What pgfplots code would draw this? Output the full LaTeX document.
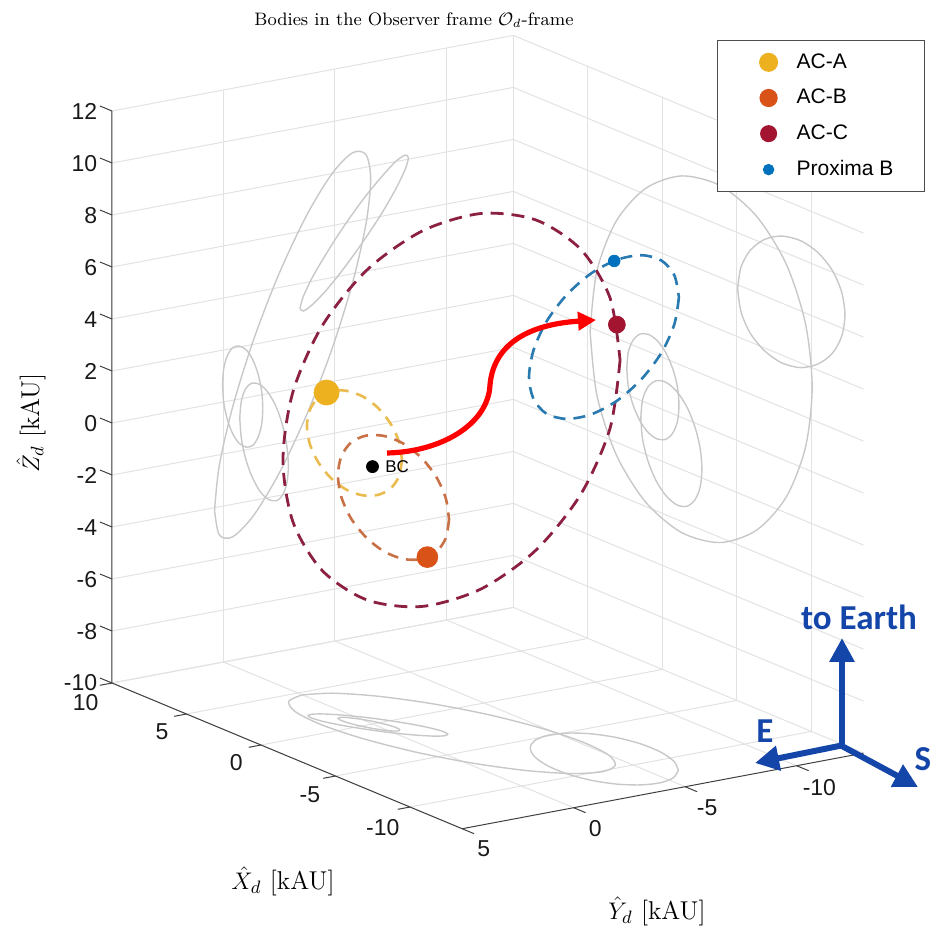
\documentclass[border=0pt]{standalone}
\usepackage{fontspec}
\usepackage{pgfplots}
\pgfplotsset{compat=1.18}
\usetikzlibrary{arrows.meta}
\newfontfamily\helv{Liberation Sans}
\newfontfamily\calib{Carlito}
\definecolor{acA}{RGB}{237,177,32}
\definecolor{acB}{RGB}{217,83,25}
\definecolor{acC}{RGB}{162,20,47}
\definecolor{prox}{RGB}{0,114,189}
\definecolor{acAd}{RGB}{234,188,80}
\definecolor{acBd}{RGB}{200,112,70}
\definecolor{acCd}{RGB}{140,32,64}
\definecolor{proxd}{RGB}{40,122,176}
\definecolor{proj}{RGB}{200,200,200}
\definecolor{gridc}{RGB}{226,226,226}
\definecolor{compass}{RGB}{20,70,170}
\begin{document}
\begin{tikzpicture}
\begin{axis}[
  disabledatascaling,
  x={(-7.45pt,3.1pt)}, y={(-11.15pt,-2.1pt)}, z={(0pt,13pt)},
  xmin=-13.5, xmax=10, ymin=-13, ymax=5, zmin=-10, zmax=12,
  xtick={-10,-5,0,5,10}, ytick={-10,-5,0,5}, ztick={-10,-8,...,12},
  grid=major,
  major grid style={gridc, line width=0.5pt},
  axis line style={draw=none},
  tick style={draw=none},
  major tick length=6pt,
  tick align=outside,
  /pgf/number format/assume math mode=true,
  tick label style={font=\helv\fontsize{11.5}{13}\selectfont, text=black!90},
  zticklabel style={xshift=2pt},
  clip=false,
  legend style={at={(axis description cs:1.0817,0.9942)}, anchor=north east,
    draw=black!70, line width=0.5pt, fill=white,
    font=\helv\fontsize{10.5}{12}\selectfont, text=black,
    inner xsep=13.5pt, inner ysep=4.5pt, row sep=5pt, column sep=4pt},
  legend cell align=left,
  legend image code/.code={\path[draw=none,fill=none] (0pt,-4pt) rectangle (20pt,4pt); \draw[#1] plot coordinates {(12pt,0pt)};},
]
% ---- grey projections: right wall (Y = -13)
\addplot3[proj, line width=0.7pt, smooth, forget plot] coordinates {(4.85,-13,1.85) (4.40,-13,4.27) (3.11,-13,6.49) (1.13,-13,8.23) (-1.30,-13,9.29) (-3.90,-13,9.53) (-6.33,-13,8.93) (-8.31,-13,7.57) (-9.60,-13,5.59) (-10.05,-13,3.25) (-9.60,-13,0.83) (-8.31,-13,-1.39) (-6.33,-13,-3.13) (-3.90,-13,-4.19) (-1.30,-13,-4.43) (1.13,-13,-3.83) (3.11,-13,-2.47) (4.40,-13,-0.49) (4.85,-13,1.85)};
\addplot3[proj, line width=0.7pt, smooth, forget plot] coordinates {(2.39,-13,1.02) (2.29,-13,1.66) (1.98,-13,2.18) (1.52,-13,2.53) (0.94,-13,2.66) (0.34,-13,2.56) (-0.24,-13,2.23) (-0.70,-13,1.72) (-1.01,-13,1.10) (-1.11,-13,0.42) (-1.01,-13,-0.22) (-0.70,-13,-0.74) (-0.24,-13,-1.09) (0.34,-13,-1.22) (0.94,-13,-1.12) (1.52,-13,-0.79) (1.98,-13,-0.28) (2.29,-13,0.34) (2.39,-13,1.02)};
\addplot3[proj, line width=0.7pt, smooth, forget plot] coordinates {(1.45,-13,-0.67) (1.33,-13,0.06) (0.97,-13,0.63) (0.43,-13,1.00) (-0.24,-13,1.10) (-0.96,-13,0.92) (-1.63,-13,0.50) (-2.17,-13,-0.13) (-2.53,-13,-0.88) (-2.65,-13,-1.67) (-2.53,-13,-2.40) (-2.17,-13,-2.97) (-1.63,-13,-3.34) (-0.96,-13,-3.44) (-0.24,-13,-3.26) (0.43,-13,-2.84) (0.97,-13,-2.21) (1.33,-13,-1.46) (1.45,-13,-0.67)};
\addplot3[proj, line width=0.7pt, smooth, forget plot] coordinates {(-5.05,-13,5.85) (-5.27,-13,6.72) (-5.89,-13,7.52) (-6.85,-13,8.17) (-8.02,-13,8.58) (-9.28,-13,8.70) (-10.45,-13,8.52) (-11.41,-13,8.06) (-12.03,-13,7.38) (-12.25,-13,6.55) (-12.03,-13,5.68) (-11.41,-13,4.88) (-10.45,-13,4.24) (-9.28,-13,3.82) (-8.02,-13,3.70) (-6.85,-13,3.89) (-5.89,-13,4.34) (-5.27,-13,5.02) (-5.05,-13,5.85)};
% ---- grey projections: left wall (X = 10)
\addplot3[proj, line width=0.7pt, smooth, forget plot] coordinates {(10,0.40,-4.10) (10,0.19,-2.42) (10,-0.42,-0.23) (10,-1.35,2.18) (10,-2.49,4.53) (10,-3.71,6.55) (10,-4.85,7.98) (10,-5.78,8.65) (10,-6.39,8.48) (10,-6.60,7.50) (10,-6.39,5.82) (10,-5.78,3.63) (10,-4.85,1.22) (10,-3.71,-1.13) (10,-2.49,-3.15) (10,-1.35,-4.58) (10,-0.42,-5.25) (10,0.19,-5.08) (10,0.40,-4.10)};
\addplot3[proj, line width=0.7pt, smooth, forget plot] coordinates {(10,0.04,0.67) (10,-0.01,1.28) (10,-0.17,1.75) (10,-0.41,2.02) (10,-0.70,2.04) (10,-1.02,1.84) (10,-1.31,1.42) (10,-1.55,0.83) (10,-1.71,0.16) (10,-1.76,-0.53) (10,-1.71,-1.14) (10,-1.55,-1.61) (10,-1.31,-1.88) (10,-1.02,-1.90) (10,-0.70,-1.70) (10,-0.41,-1.28) (10,-0.17,-0.69) (10,-0.01,-0.02) (10,0.04,0.67)};
\addplot3[proj, line width=0.7pt, smooth, forget plot] coordinates {(10,-0.73,-0.73) (10,-0.80,-0.09) (10,-0.99,0.35) (10,-1.28,0.52) (10,-1.63,0.41) (10,-2.01,0.03) (10,-2.37,-0.58) (10,-2.65,-1.33) (10,-2.84,-2.15) (10,-2.91,-2.93) (10,-2.84,-3.57) (10,-2.65,-4.01) (10,-2.37,-4.18) (10,-2.01,-4.07) (10,-1.63,-3.69) (10,-1.28,-3.08) (10,-0.99,-2.33) (10,-0.80,-1.51) (10,-0.73,-0.73)};
\addplot3[proj, line width=0.7pt, smooth, forget plot] coordinates {(10,-3.43,3.05) (10,-3.58,3.48) (10,-4.00,4.17) (10,-4.65,5.01) (10,-5.44,5.93) (10,-6.28,6.80) (10,-7.08,7.51) (10,-7.72,8.00) (10,-8.14,8.18) (10,-8.29,8.05) (10,-8.14,7.62) (10,-7.72,6.94) (10,-7.08,6.09) (10,-6.28,5.18) (10,-5.44,4.31) (10,-4.65,3.59) (10,-4.00,3.11) (10,-3.58,2.92) (10,-3.43,3.05)};
% ---- grey projections: floor (Z = -10)
\addplot3[proj, line width=0.7pt, smooth, forget plot] coordinates {(4.70,0.04,-10) (4.26,0.91,-10) (2.97,1.47,-10) (1.00,1.63,-10) (-1.41,1.38,-10) (-3.99,0.76,-10) (-6.40,-0.17,-10) (-8.37,-1.29,-10) (-9.66,-2.47,-10) (-10.10,-3.56,-10) (-9.66,-4.43,-10) (-8.37,-4.99,-10) (-6.40,-5.15,-10) (-3.99,-4.90,-10) (-1.41,-4.28,-10) (1.00,-3.35,-10) (2.97,-2.23,-10) (4.26,-1.05,-10) (4.70,0.04,-10)};
\addplot3[proj, line width=0.7pt, smooth, forget plot] coordinates {(-1.25,-0.40,-10) (-1.31,-0.28,-10) (-1.20,-0.11,-10) (-0.94,0.09,-10) (-0.56,0.29,-10) (-0.11,0.47,-10) (0.36,0.61,-10) (0.80,0.69,-10) (1.14,0.70,-10) (1.35,0.64,-10) (1.41,0.52,-10) (1.30,0.35,-10) (1.04,0.16,-10) (0.66,-0.05,-10) (0.21,-0.23,-10) (-0.26,-0.37,-10) (-0.70,-0.45,-10) (-1.04,-0.46,-10) (-1.25,-0.40,-10)};
\addplot3[proj, line width=0.7pt, smooth, forget plot] coordinates {(-2.73,-1.57,-10) (-2.81,-1.33,-10) (-2.58,-0.94,-10) (-2.06,-0.45,-10) (-1.33,0.08,-10) (-0.46,0.59,-10) (0.44,1.02,-10) (1.25,1.31,-10) (1.89,1.43,-10) (2.27,1.37,-10) (2.35,1.13,-10) (2.12,0.74,-10) (1.60,0.25,-10) (0.87,-0.28,-10) (0.00,-0.79,-10) (-0.90,-1.22,-10) (-1.71,-1.51,-10) (-2.35,-1.63,-10) (-2.73,-1.57,-10)};
\addplot3[proj, line width=0.7pt, smooth, forget plot] coordinates {(-11.50,-6.03,-10) (-12.23,-5.34,-10) (-12.54,-4.56,-10) (-12.38,-3.78,-10) (-11.79,-3.09,-10) (-10.83,-2.58,-10) (-9.61,-2.31,-10) (-8.29,-2.31,-10) (-7.02,-2.58,-10) (-5.96,-3.09,-10) (-5.23,-3.78,-10) (-4.92,-4.56,-10) (-5.08,-5.34,-10) (-5.67,-6.03,-10) (-6.63,-6.54,-10) (-7.85,-6.81,-10) (-9.17,-6.81,-10) (-10.44,-6.54,-10) (-11.50,-6.03,-10)};
% ---- main axis lines and their tick marks (dark)
\draw[black!75, line width=0.5pt] (axis cs:10,5,12) -- (axis cs:10,5,-10) -- (axis cs:-13.5,5,-10) -- (axis cs:-13.5,-13,-10);
\pgfplotsinvokeforeach{-10,-5,0,5,10}{\draw[black!75, line width=0.5pt] (axis cs:#1,5,-10) -- (axis cs:#1,5.55,-10);}
\pgfplotsinvokeforeach{-10,-5,0,5}{\draw[black!75, line width=0.5pt] (axis cs:-13.5,#1,-10) -- (axis cs:-14.3,#1,-10);}
\pgfplotsinvokeforeach{-10,-8,-6,-4,-2,0,2,4,6,8,10,12}{\draw[black!75, line width=0.5pt] (axis cs:10,5,#1) -- (axis cs:10.8,5,#1);}
% ---- orbits (dashed)
\addplot3[acCd, line width=1.4pt, smooth, dash pattern=on 6.5pt off 4pt, forget plot] coordinates {(-10.24,-4.26,5.75) (-9.79,-4.11,3.04) (-8.47,-3.68,0.26) (-6.46,-3.01,-2.26) (-3.99,-2.20,-4.21) (-1.35,-1.33,-5.37) (1.12,-0.51,-5.58) (3.13,0.16,-4.82) (4.45,0.59,-3.20) (4.90,0.74,-0.89) (4.45,0.59,1.82) (3.13,0.16,4.60) (1.12,-0.51,7.12) (-1.35,-1.33,9.07) (-3.99,-2.20,10.23) (-6.46,-3.01,10.44) (-8.47,-3.68,9.68) (-9.79,-4.11,8.06) (-10.24,-4.26,5.75)};
\addplot3[proxd, line width=1.3pt, smooth, dash pattern=on 6pt off 4pt, forget plot] coordinates {(-11.54,-6.03,8.19) (-11.37,-5.94,7.13) (-10.88,-5.69,5.96) (-10.13,-5.30,4.83) (-9.20,-4.82,3.85) (-8.22,-4.30,3.17) (-7.30,-3.82,2.86) (-6.54,-3.43,2.94) (-6.05,-3.18,3.43) (-5.88,-3.09,4.25) (-6.05,-3.18,5.31) (-6.54,-3.43,6.48) (-7.30,-3.82,7.62) (-8.22,-4.30,8.59) (-9.20,-4.82,9.27) (-10.13,-5.30,9.59) (-10.88,-5.69,9.50) (-11.37,-5.94,9.01) (-11.54,-6.03,8.19)};
\addplot3[acAd, line width=1.3pt, smooth, dash pattern=on 5.5pt off 4pt, forget plot] coordinates {(-0.96,-0.68,0.27) (-0.84,-0.63,-0.37) (-0.49,-0.49,-0.90) (0.04,-0.28,-1.24) (0.68,-0.02,-1.37) (1.38,0.26,-1.27) (2.03,0.52,-0.93) (2.55,0.73,-0.42) (2.90,0.87,0.21) (3.02,0.92,0.89) (2.90,0.87,1.53) (2.55,0.73,2.06) (2.03,0.52,2.41) (1.38,0.26,2.53) (0.68,-0.02,2.43) (0.04,-0.28,2.10) (-0.49,-0.49,1.58) (-0.84,-0.63,0.95) (-0.96,-0.68,0.27)};
\addplot3[acBd, line width=1.3pt, smooth, dash pattern=on 5.5pt off 4pt, forget plot] coordinates {(-3.49,-1.10,-1.48) (-3.36,-1.04,-2.22) (-2.97,-0.87,-2.82) (-2.38,-0.60,-3.19) (-1.65,-0.27,-3.30) (-0.87,0.07,-3.14) (-0.15,0.40,-2.71) (0.45,0.67,-2.08) (0.84,0.84,-1.32) (0.97,0.90,-0.52) (0.84,0.84,0.22) (0.45,0.67,0.82) (-0.15,0.40,1.19) (-0.87,0.07,1.30) (-1.65,-0.27,1.14) (-2.38,-0.60,0.71) (-2.97,-0.87,0.08) (-3.36,-1.04,-0.68) (-3.49,-1.10,-1.48)};
% ---- barycentre
\addplot3[only marks, mark=*, mark size=3pt, black, forget plot] coordinates {(0,0,-0.1)};
% ---- bodies
\addplot3[only marks, mark=*, mark size=6.25pt, acA, legend image post style={mark size=4.5pt}] coordinates {(2.20,0.59,2.32)};
\addlegendentry{AC-A}
\addplot3[only marks, mark=*, mark size=5.2pt, acB, legend image post style={mark size=4.3pt}] coordinates {(-2.62,-0.71,-3.07)};
\addlegendentry{AC-B}
\addplot3[only marks, mark=*, mark size=4.2pt, acC, legend image post style={mark size=4pt}] coordinates {(-10.10,-4.21,7.09)};
\addlegendentry{AC-C}
\addplot3[only marks, mark=*, mark size=2.9pt, prox, legend image post style={mark size=2.6pt}] coordinates {(-9.10,-4.76,9.21)};
\addlegendentry{Proxima B}
% frame of the whole picture (image pixel corners)
\coordinate (tl) at (axis cs:25,0,11.885);
\coordinate (br) at (axis cs:-37.819,0,-8.789);
\end{axis}
\pgfresetboundingbox
\path[use as bounding box] (tl) rectangle (br);
\begin{scope}[shift={(tl)}, x=0.5pt, y=-0.5pt]
  \node[font=\fontsize{9}{11}\selectfont] at (414,20) {Bodies in the Observer frame $\mathcal{O}_d$-frame};
  \node[font=\fontsize{12.9}{15}\selectfont] at (283,881) {$\hat{X}_d$ [kAU]};
  \node[font=\fontsize{12.9}{15}\selectfont] at (657,911) {$\hat{Y}_d$ [kAU]};
  \node[font=\fontsize{12.9}{15}\selectfont, rotate=90] at (31,423) {$\hat{Z}_d$ [kAU]};
  \node[anchor=west, inner sep=0pt, font=\helv\fontsize{8.5}{10}\selectfont] at (385,467) {BC};
  \draw[red, line width=2.6pt, -{Triangle[length=9pt,width=9pt]}] (387,453) .. controls (440,452) and (488,425) .. (490,385) .. controls (493,350) and (520,325) .. (596,320);
  \draw[compass, line width=3pt, -{Triangle[length=12pt,width=12pt]}] (842,747) -- (842,638);
  \draw[compass, line width=3pt, -{Triangle[length=12pt,width=12pt]}] (844,745) -- (755,763);
  \draw[compass, line width=3pt, -{Triangle[length=12pt,width=12pt]}] (840,745) -- (918,787);
  \node[text=compass, font=\calib\bfseries\fontsize{17.5}{20}\selectfont] at (859,617) {to Earth};
  \node[text=compass, font=\calib\bfseries\fontsize{17.5}{20}\selectfont] at (765,731) {E};
  \node[text=compass, font=\calib\bfseries\fontsize{17.5}{20}\selectfont] at (923,759) {S};
\end{scope}
\end{tikzpicture}
\end{document}
